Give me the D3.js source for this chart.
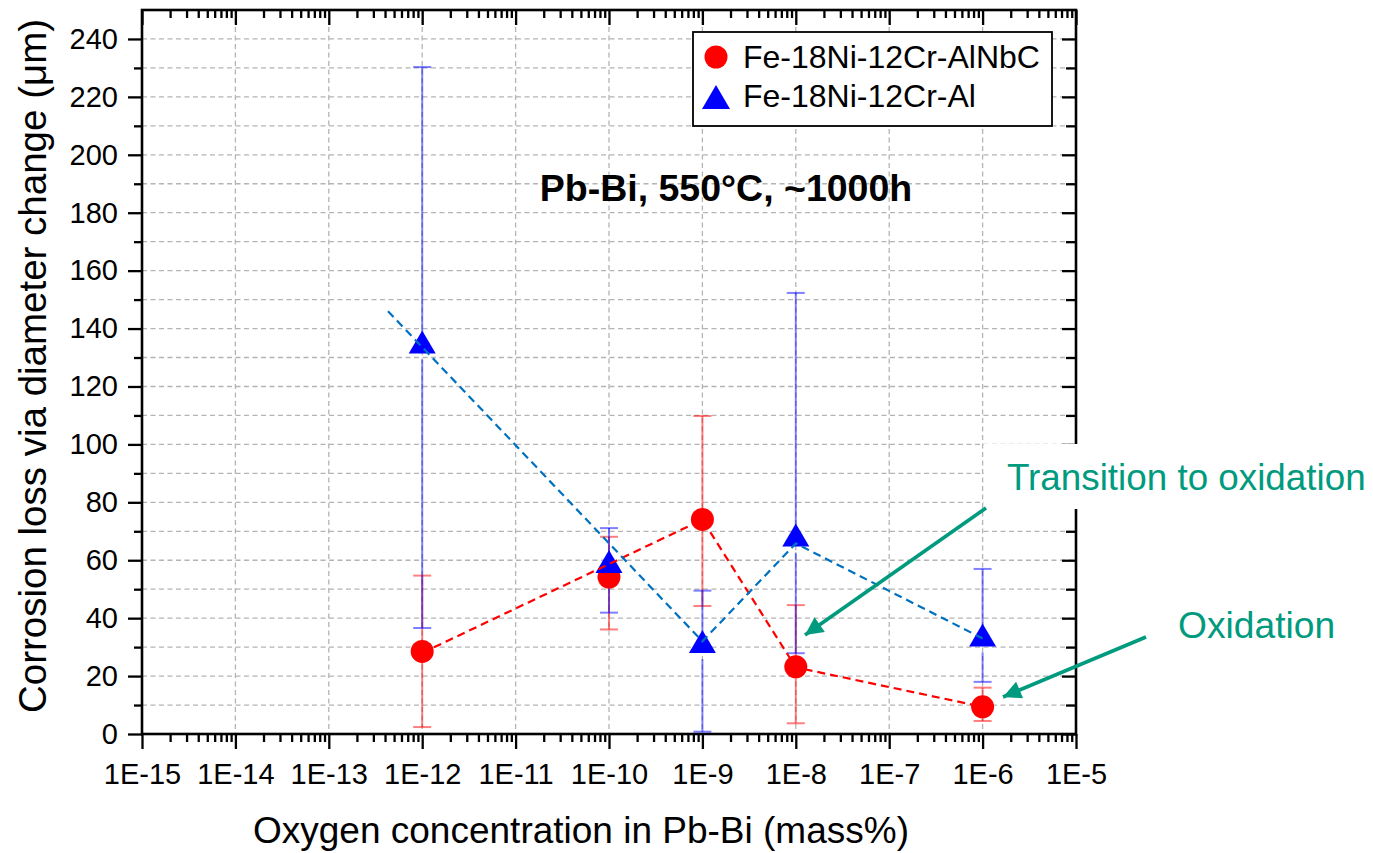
<!DOCTYPE html>
<html>
<head>
<meta charset="utf-8">
<script src="https://cdn.jsdelivr.net/npm/d3@7"></script>
<style>
  html, body { margin: 0; padding: 0; background: #ffffff; }
  svg { display: block; font-family: "Liberation Sans", Arial, Helvetica, sans-serif; }
</style>
</head>
<body>
<svg id="chart" width="1373" height="853"></svg>
<script>
// Oxygen concentration in Pb-Bi (mass%) at each test condition
const oxygen = [1e-12, 1e-10, 1e-9, 1e-8, 1e-6];

// Fe-18Ni-12Cr-AlNbC: corrosion loss (µm) with lower / upper error limits
const alnbcLoss = [28.5, 54.2, 74.1, 23.2, 9.4];
const alnbcLow  = [2.4, 36.1, 44.2, 3.7, 4.5];
const alnbcHigh = [54.7, 68.1, 109.8, 44.5, 16.0];

// Fe-18Ni-12Cr-Al: corrosion loss (µm) with lower / upper error limits
const alLoss = [135.4, 59.6, 31.9, 68.7, 34.2];
const alLow  = [36.6, 41.9, 0.8, 27.9, 18.0];
const alHigh = [230.3, 71.1, 49.5, 152.3, 57.0];

// Dashed trend guides
const alnbcTrendX = [1e-12, 1e-9, 1e-8, 1e-6];
const alnbcTrendY = [28.0, 74.0, 23.0, 9.4];
const alTrendX = [4.3e-13, 1e-9, 1e-8, 1e-6];
const alTrendY = [146.0, 32.0, 65.8, 33.0];

// Axis ticks
const xMajorTicks = [1e-15, 1e-14, 1e-13, 1e-12, 1e-11, 1e-10, 1e-9, 1e-8, 1e-7, 1e-6, 1e-5];
const xTickLabels = ["1E-15", "1E-14", "1E-13", "1E-12", "1E-11", "1E-10", "1E-9", "1E-8", "1E-7", "1E-6", "1E-5"];
const yMajorTicks = [0, 20, 40, 60, 80, 100, 120, 140, 160, 180, 200, 220, 240];
const yMinorTicks = [10, 30, 50, 70, 90, 110, 130, 150, 170, 190, 210, 230];

const seriesNames = ["Fe-18Ni-12Cr-AlNbC", "Fe-18Ni-12Cr-Al"];
const titleText = "Pb-Bi, 550°C, ~1000h";
const xTitle = "Oxygen concentration in Pb-Bi (mass%)";
const yTitle = "Corrosion loss via diameter change (μm)";
const noteTransition = "Transition to oxidation";
const noteOxidation = "Oxidation";

const RED = "#ff0000";
const BLUE = "#0000ff";
const RED_TREND = "#ff0000";
const BLUE_TREND = "#0070c0";
const TEAL = "#009a7e";
const GRID = "#b4b4b4";

const svg = d3.select("#chart");
const L = 142, R = 1076, T = 10, B = 734;

const x = d3.scaleLog().domain([1e-15, 1e-5]).range([L, R]);
const y = d3.scaleLinear().domain([0, 250]).range([B, T]);

// minor log ticks 2..9 within every decade
const xMinorTicks = [];
for (let e = -15; e < -5; e++) {
  for (let m = 2; m <= 9; m++) xMinorTicks.push(m * Math.pow(10, e));
}

// ---- grid ----
const grid = svg.append("g").attr("stroke", GRID).attr("stroke-width", 1.3)
  .attr("stroke-dasharray", "5,3.5").attr("fill", "none");
grid.selectAll("line.h").data(yMajorTicks.concat(yMinorTicks).filter(v => v > 0))
  .join("line").attr("class", "h")
  .attr("x1", L).attr("x2", R).attr("y1", d => y(d)).attr("y2", d => y(d));
grid.selectAll("line.v").data(xMajorTicks.slice(1, -1))
  .join("line").attr("class", "v")
  .attr("y1", T).attr("y2", B).attr("x1", d => x(d)).attr("x2", d => x(d));

// ---- axes ----
function styleAxis(g) {
  g.select(".domain").remove();
  g.selectAll(".tick line").attr("stroke", "#000").attr("stroke-width", 2.3);
  g.selectAll(".tick text").attr("fill", "#000").attr("font-size", 29);
}

// bottom
svg.append("g").attr("transform", `translate(0,${B})`)
  .call(d3.axisBottom(x).tickValues(xMinorTicks).tickSize(8).tickFormat(""))
  .call(styleAxis);
svg.append("g").attr("transform", `translate(0,${B})`)
  .call(d3.axisBottom(x).tickValues(xMajorTicks).tickSize(15).tickPadding(14)
    .tickFormat((d, i) => xTickLabels[i]))
  .call(styleAxis);
// top (inward)
svg.append("g").attr("transform", `translate(0,${T})`)
  .call(d3.axisBottom(x).tickValues(xMinorTicks).tickSize(8).tickFormat(""))
  .call(styleAxis);
svg.append("g").attr("transform", `translate(0,${T})`)
  .call(d3.axisBottom(x).tickValues(xMajorTicks).tickSize(15).tickFormat(""))
  .call(styleAxis);
// left
svg.append("g").attr("transform", `translate(${L},0)`)
  .call(d3.axisLeft(y).tickValues(yMinorTicks).tickSize(8).tickFormat(""))
  .call(styleAxis);
svg.append("g").attr("transform", `translate(${L},0)`)
  .call(d3.axisLeft(y).tickValues(yMajorTicks).tickSize(14).tickPadding(10).tickFormat(d3.format("d")))
  .call(styleAxis);
// right (inward)
svg.append("g").attr("transform", `translate(${R},0)`)
  .call(d3.axisLeft(y).tickValues(yMinorTicks).tickSize(10).tickFormat(""))
  .call(styleAxis);
svg.append("g").attr("transform", `translate(${R},0)`)
  .call(d3.axisLeft(y).tickValues(yMajorTicks).tickSize(14).tickFormat(""))
  .call(styleAxis);

// frame
svg.append("rect").attr("x", L).attr("y", T).attr("width", R - L).attr("height", B - T)
  .attr("fill", "none").attr("stroke", "#000").attr("stroke-width", 2.6);

// ---- error bars ----
const CAP = 9;
const TRI_W = 13.5, TRI_H = 23;
// gapBelow: distance under the point centre where the lower bar starts
function errorBars(cls, xs, vals, lo, hi, color, gapBelow) {
  const g = svg.append("g").attr("class", cls)
    .attr("stroke", color).attr("stroke-opacity", 0.5).attr("stroke-width", 2).attr("fill", "none");
  const d = xs.map((v, i) => ({ x: v, v: vals[i], lo: lo[i], hi: hi[i] }));
  g.selectAll("line.up").data(d).join("line").attr("class", "up")
    .attr("x1", e => x(e.x)).attr("x2", e => x(e.x))
    .attr("y1", e => y(e.hi)).attr("y2", e => y(e.v));
  g.selectAll("line.down").data(d.filter(e => y(e.lo) > y(e.v) + gapBelow))
    .join("line").attr("class", "down")
    .attr("x1", e => x(e.x)).attr("x2", e => x(e.x))
    .attr("y1", e => y(e.v) + gapBelow).attr("y2", e => y(e.lo));
  g.selectAll("line.capHi").data(d).join("line").attr("class", "capHi")
    .attr("x1", e => x(e.x) - CAP).attr("x2", e => x(e.x) + CAP)
    .attr("y1", e => y(e.hi)).attr("y2", e => y(e.hi));
  g.selectAll("line.capLo").data(d).join("line").attr("class", "capLo")
    .attr("x1", e => x(e.x) - CAP).attr("x2", e => x(e.x) + CAP)
    .attr("y1", e => y(e.lo)).attr("y2", e => y(e.lo));
  return g;
}
errorBars("err-alnbc", oxygen, alnbcLoss, alnbcLow, alnbcHigh, RED, 0);
errorBars("err-al", oxygen, alLoss, alLow, alHigh, BLUE, TRI_H / 2 + 6);

// ---- markers ----
const triPath = `M0,${-TRI_H / 2}L${TRI_W},${TRI_H / 2}L${-TRI_W},${TRI_H / 2}Z`;

svg.append("g").selectAll("circle").data(oxygen.map((v, i) => [v, alnbcLoss[i]]))
  .join("circle").attr("cx", d => x(d[0])).attr("cy", d => y(d[1])).attr("r", 11.5)
  .attr("fill", RED);

svg.append("g").selectAll("path").data(oxygen.map((v, i) => [v, alLoss[i]]))
  .join("path").attr("d", triPath)
  .attr("transform", d => `translate(${x(d[0])},${y(d[1])})`)
  .attr("fill", BLUE);

// ---- dashed trend guides ----
const line = d3.line().x(d => x(d[0])).y(d => y(d[1]));
svg.append("path").datum(alnbcTrendX.map((v, i) => [v, alnbcTrendY[i]]))
  .attr("d", line).attr("fill", "none").attr("stroke", RED_TREND)
  .attr("stroke-width", 2.2).attr("stroke-dasharray", "8,5");
svg.append("path").datum(alTrendX.map((v, i) => [v, alTrendY[i]]))
  .attr("d", line).attr("fill", "none").attr("stroke", BLUE_TREND)
  .attr("stroke-width", 2.2).attr("stroke-dasharray", "8,5");

// ---- legend ----
const lg = svg.append("g");
lg.append("rect").attr("x", 693).attr("y", 32).attr("width", 359).attr("height", 94)
  .attr("fill", "#fff").attr("stroke", "#000").attr("stroke-width", 1.8);
lg.append("circle").attr("cx", 716).attr("cy", 57).attr("r", 11.5).attr("fill", RED);
lg.append("path").attr("d", `M0,-12L14,12L-14,12Z`).attr("transform", "translate(716,97)").attr("fill", BLUE);
lg.selectAll("text").data(seriesNames).join("text")
  .attr("x", 743).attr("y", (d, i) => 68 + i * 39)
  .attr("font-size", 32).attr("fill", "#000").text(d => d);

// ---- titles ----
svg.append("text").attr("x", 726).attr("y", 201).attr("text-anchor", "middle")
  .attr("font-size", 37.5).attr("font-weight", "bold").attr("fill", "#000").text(titleText);
svg.append("text").attr("x", 581).attr("y", 843).attr("text-anchor", "middle")
  .attr("font-size", 37).attr("fill", "#000").text(xTitle);
svg.append("text").attr("transform", "translate(46,366) rotate(-90)").attr("text-anchor", "middle")
  .attr("font-size", 38.5).attr("fill", "#000").text(yTitle);

// ---- annotations ----
svg.append("rect").attr("x", 984).attr("y", 444).attr("width", 389).attr("height", 65).attr("fill", "#fff");
svg.append("text").attr("x", 1007).attr("y", 490).attr("font-size", 36.8).attr("fill", TEAL).text(noteTransition);
svg.append("text").attr("x", 1178).attr("y", 638).attr("font-size", 37.2).attr("fill", TEAL).text(noteOxidation);

svg.append("defs").append("marker").attr("id", "arrowHead")
  .attr("viewBox", "0 0 10 10").attr("refX", 10).attr("refY", 5)
  .attr("markerWidth", 5.5).attr("markerHeight", 5).attr("markerUnits", "strokeWidth")
  .attr("orient", "auto")
  .append("path").attr("d", "M0,0L10,5L0,10Z").attr("fill", TEAL);

const arrows = [
  { x1: 986, y1: 508, x2: 805, y2: 635 },
  { x1: 1146, y1: 637, x2: 1003, y2: 697 }
];
svg.append("g").selectAll("line").data(arrows).join("line")
  .attr("x1", d => d.x1).attr("y1", d => d.y1).attr("x2", d => d.x2).attr("y2", d => d.y2)
  .attr("stroke", TEAL).attr("stroke-width", 3.6).attr("marker-end", "url(#arrowHead)");
</script>
</body>
</html>
